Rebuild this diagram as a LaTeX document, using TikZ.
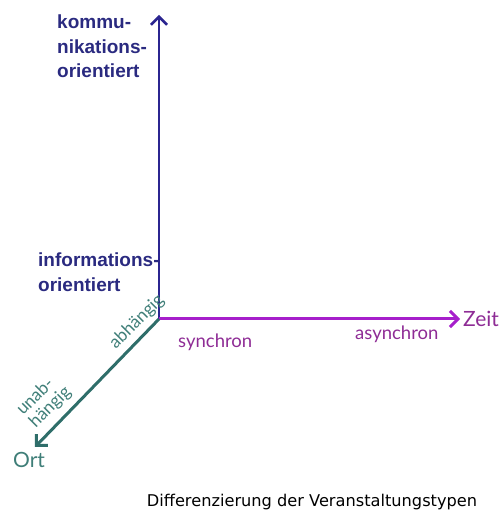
\documentclass[tikz,border=0pt]{standalone}
\usepackage{fontspec}
\usetikzlibrary{arrows.meta}
\newfontfamily\axisfont{Liberation Sans}
\newfontfamily\gillfont{Lato}
\newfontfamily\capfont{DejaVu Sans}
\definecolor{navyaxis}{HTML}{2B2590}
\definecolor{navytext}{HTML}{2A2A80}
\definecolor{magaxis}{HTML}{A61FCB}
\definecolor{magtext}{HTML}{8E2C95}
\definecolor{tealaxis}{HTML}{2F6E6A}
\definecolor{tealtext}{HTML}{3F7E78}
\tikzset{
  barb/.style={-{Straight Barb[length=8pt,width=16pt]}},
  navylbl/.style={font=\axisfont\bfseries\fontsize{19}{24.5}\selectfont, text=navytext, inner sep=0pt, align=left},
  maglbl/.style={font=\gillfont\fontsize{18.5}{20}\selectfont, text=magtext, inner sep=0pt},
  teallbl/.style={font=\gillfont\fontsize{17.5}{18}\selectfont, text=tealtext, inner sep=0pt, align=left, rotate=45},
}
\begin{document}
\begin{tikzpicture}[x=1pt,y=1pt]
\useasboundingbox (0,0) rectangle (498,518);
\coordinate (O) at (159,199);
\coordinate (top) at (159,503);
\coordinate (right) at (460,199);
\coordinate (ort) at (35,71);
\draw[navyaxis, line width=2.5pt, barb] (O) -- (top);
\draw[magaxis, line width=3pt, barb] (O) -- (right);
\draw[tealaxis, line width=3pt, barb] (O) -- (ort);
\node[navylbl, anchor=north west] (komm) at (57,503) {kommu-\\nikations-\\orientiert};
\node[navylbl, anchor=north west] (info) at (38,265) {informations-\\orientiert};
\node[maglbl, anchor=base west] (sync) at (178,170) {synchron};
\node[maglbl, anchor=base west] (async) at (355,178) {asynchron};
\node[maglbl, anchor=base west, font=\gillfont\fontsize{21}{22}\selectfont] (zeit) at (463,191) {Zeit};
\node[teallbl] (abh) at (137,196) {abhängig};
\node[teallbl] (unab) at (44,117) {unab-\\hängig};
\node[anchor=base west, inner sep=0pt, font=\gillfont\fontsize{21}{22}\selectfont, text=tealtext] (ortl) at (13,50) {Ort};
\node[anchor=base, inner sep=0pt, font=\capfont\fontsize{16.2}{18}\selectfont] (cap) at (312,11) {Differenzierung der Veranstaltungstypen};
\end{tikzpicture}
\end{document}
